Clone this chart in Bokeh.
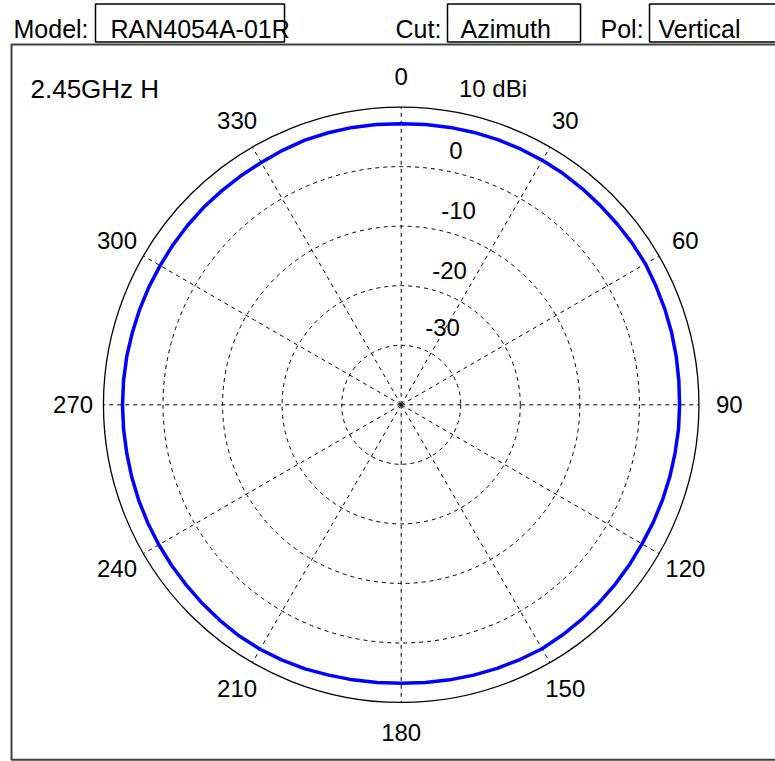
import numpy as np
from bokeh.plotting import figure
from bokeh.models import Range1d
from bokeh.core.properties import value
from bokeh.embed import file_html
from bokeh.resources import INLINE

# ---------------- data ----------------
angles_deg = list(range(0, 360, 5))
gain_dbi = [7.2, 7.25, 7.3, 7.35, 7.4, 7.4, 7.4, 7.4, 7.35, 7.3, 7.3, 7.35,
            7.35, 7.2, 7.1, 7.0, 6.9, 6.8, 6.75, 6.75, 6.7, 6.7, 6.7, 6.7,
            6.7, 6.8, 6.9, 7.0, 7.1, 7.2, 7.3, 7.2, 7.1, 7.0, 6.9, 6.8,
            6.75, 6.8, 6.9, 7.0, 7.2, 7.3, 7.4, 7.4, 7.3, 7.2, 7.1, 7.05,
            7.0, 6.95, 6.9, 6.85, 6.8, 6.8, 6.8, 6.8, 6.8, 6.75, 6.75, 6.75,
            6.75, 6.8, 6.85, 6.9, 6.9, 6.95, 7.0, 7.15, 7.3, 7.3, 7.3, 7.25]
ring_levels = [-30, -20, -10, 0]          # dashed rings (dBi)
outer_level = 10                          # solid outer ring (dBi)
r_min = -40                               # centre of the plot (dBi)
ring_labels = ["10 dBi", "0", "-10", "-20", "-30"]
spoke_angles = [0, 30, 60, 90, 120, 150, 180, 210, 240, 270, 300, 330]
spoke_labels = ["0", "30", "60", "90", "120", "150", "180", "210", "240", "270", "300", "330"]
model_name = "RAN4054A-01R"
cut_name = "Azimuth"
pol_name = "Vertical"
freq_label = "2.45GHz H"

# ---------------- layout helpers (canvas pixels -> data units) ----------------
K = 5.955            # pixels per dB
CX, CY = 400.7, 404.3
W, H = 775, 761


def dx(px):
    return (px - CX) / K


def dy(py):
    return (CY - py) / K


FONT = value("Liberation Sans")

p = figure(width=W, height=H, output_backend="svg", toolbar_location=None,
           x_range=Range1d(dx(0), dx(W)), y_range=Range1d(dy(H), dy(0)),
           x_axis_type=None, y_axis_type=None, min_border=0,
           outline_line_color=None, background_fill_color="white",
           border_fill_color="white")
p.grid.visible = False

R_out = outer_level - r_min

# panel frame
p.quad(left=[dx(11)], right=[dx(800)], top=[dy(44)], bottom=[dy(759.3)],
       fill_color=None, line_color="#404040", line_width=2)

# header boxes
p.quad(left=[dx(95), dx(447), dx(649)], right=[dx(284), dx(580), dx(800)],
       top=[dy(3.5), dy(3.5), dy(3.5)], bottom=[dy(41.5), dy(41.5), dy(41.5)],
       fill_color=None, line_color="black", line_width=1.5)

hdr_x = [dx(13), dx(110), dx(395), dx(460), dx(600), dx(658)]
hdr_t = ["Model:", model_name, "Cut:", cut_name, "Pol:", pol_name]
p.text(x=hdr_x, y=[dy(28.5)] * 6, text=hdr_t, text_font=FONT,
       text_font_size="25px", text_align="left", text_baseline="middle",
       text_color="black")

p.text(x=[dx(30)], y=[dy(88)], text=[freq_label], text_font=FONT,
       text_font_size="26px", text_align="left", text_baseline="middle",
       text_color="black")

# dashed rings
ring_r = [lv - r_min for lv in ring_levels]
p.circle(x=[0] * len(ring_r), y=[0] * len(ring_r), radius=ring_r,
         fill_color=None, line_color="black", line_width=1, line_dash="4 4")
# outer solid ring
p.circle(x=[0], y=[0], radius=[R_out], fill_color=None, line_color="black",
         line_width=1.3)

# spokes
th = np.deg2rad(spoke_angles)
p.segment(x0=np.zeros(len(th)), y0=np.zeros(len(th)),
          x1=R_out * np.sin(th), y1=R_out * np.cos(th),
          line_color="black", line_width=1, line_dash="4 4")

# angle labels
lab_r = R_out + 5.1
p.text(x=lab_r * np.sin(th), y=lab_r * np.cos(th), text=spoke_labels,
       text_font=FONT, text_font_size="24px", text_align="center",
       text_baseline="middle", text_color="black")

# ring labels (positions on the canvas)
ring_label_px = [492.5, 455.3, 458, 449, 442]
ring_label_py = [88, 150, 210, 270, 327]
p.text(x=[dx(v) for v in ring_label_px], y=[dy(v) for v in ring_label_py],
       text=ring_labels, text_font=FONT, text_font_size="24px",
       text_align="center", text_baseline="middle", text_color="black")

# pattern trace
a = np.deg2rad(angles_deg + [angles_deg[0]])
g = np.array(gain_dbi + [gain_dbi[0]]) - r_min
p.line(x=g * np.sin(a), y=g * np.cos(a), line_color="#0000ff", line_width=3.5)

open("out.html", "w").write(file_html(p, INLINE))
